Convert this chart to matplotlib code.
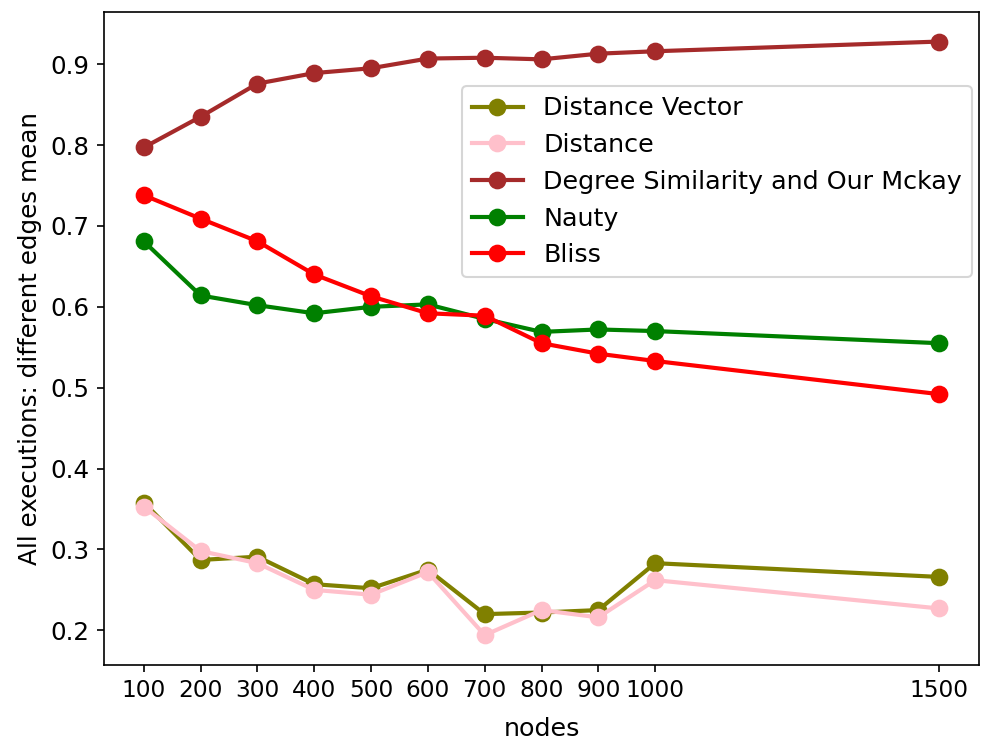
import matplotlib
matplotlib.use("Agg")
import matplotlib.pyplot as plt

nodes = [100, 200, 300, 400, 500, 600, 700, 800, 900, 1000, 1500]

distance_vector = [0.358, 0.287, 0.291, 0.257, 0.252, 0.275, 0.220, 0.222, 0.225, 0.283, 0.266]
distance = [0.353, 0.298, 0.283, 0.250, 0.244, 0.272, 0.194, 0.225, 0.216, 0.262, 0.227]
degree_similarity = [0.797, 0.835, 0.876, 0.889, 0.895, 0.907, 0.908, 0.906, 0.913, 0.916, 0.928]
nauty = [0.681, 0.614, 0.602, 0.592, 0.600, 0.603, 0.585, 0.569, 0.572, 0.570, 0.555]
bliss = [0.738, 0.709, 0.681, 0.640, 0.613, 0.592, 0.589, 0.555, 0.542, 0.533, 0.492]

series = [
    ("Distance Vector", distance_vector, "olive"),
    ("Distance", distance, "pink"),
    ("Degree Similarity and Our Mckay", degree_similarity, "brown"),
    ("Nauty", nauty, "green"),
    ("Bliss", bliss, "red"),
]

plt.rcParams["font.size"] = 12.2

fig = plt.figure(figsize=(981 / 150, 742 / 150), dpi=150)
ax = fig.add_axes([0.106, 0.104, 0.892, 0.880])

for label, values, color in series:
    ax.plot(nodes, values, "o-", color=color, label=label, linewidth=2.0, markersize=7.5)

ax.set_xticks(nodes)
ax.set_xticklabels([str(n) for n in nodes])
ax.tick_params(axis="x", labelsize=11.2)
ax.tick_params(axis="y", labelsize=11.8)
ax.set_xlabel("nodes", labelpad=7)
ax.set_ylabel("All executions: different edges mean", fontsize=11.8)
ax.legend(loc="upper right", bbox_to_anchor=(0.992, 0.886), borderaxespad=0)

fig.savefig("out.png", dpi=150)
